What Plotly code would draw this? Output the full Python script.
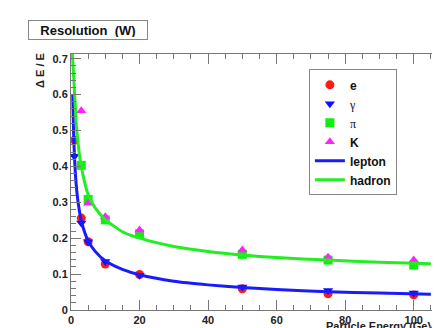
import plotly.graph_objects as go

# ---- data ----
energy = [1, 3, 5, 10, 20, 50, 75, 100]
res_e = [0.473, 0.256, 0.190, 0.128, 0.099, 0.059, 0.045, 0.042]
res_gamma = [0.428, 0.242, 0.190, 0.135, 0.097, 0.064, 0.054, 0.047]
energy_had = [3, 5, 10, 20, 50, 75, 100]
res_pi = [0.403, 0.308, 0.251, 0.212, 0.155, 0.139, 0.125]
res_K = [0.555, 0.297, 0.260, 0.223, 0.167, 0.147, 0.139]

fit_lep_E = [0.5, 0.75, 1, 1.5, 2, 3, 4, 5, 7, 10, 15, 20, 30, 40, 50, 60, 75, 90, 105]
fit_lep_R = [0.600, 0.496, 0.430, 0.351, 0.305, 0.249, 0.216, 0.193, 0.164, 0.137,
             0.113, 0.098, 0.080, 0.070, 0.063, 0.057, 0.051, 0.047, 0.044]
fit_had_E = [0.35, 0.6, 1, 1.3, 1.6, 2, 2.5, 3, 4, 5, 7, 10, 15, 20, 30, 40, 50, 60, 75, 90, 105]
fit_had_R = [0.720, 0.680, 0.610, 0.560, 0.510, 0.470, 0.430, 0.400, 0.355, 0.322, 0.285,
             0.252, 0.218, 0.200, 0.177, 0.163, 0.153, 0.146, 0.139, 0.133, 0.129]

x_ticks = [0, 20, 40, 60, 80, 100]
y_ticks = [0, 0.1, 0.2, 0.3, 0.4, 0.5, 0.6, 0.7]

FONT = "Liberation Sans, Arial, sans-serif"
SERIF = "Liberation Serif"

fig = go.Figure()
fig.add_trace(go.Scatter(x=energy, y=res_e, mode="markers", name="<b>e</b>",
                         marker=dict(symbol="circle", size=9, color="#ff1a1a", line=dict(width=0))))
fig.add_trace(go.Scatter(x=energy, y=res_gamma, mode="markers",
                         name=f"<span style='font-family:{SERIF}'>γ</span>",
                         marker=dict(symbol="triangle-down", size=9, color="#1010ff", line=dict(width=0))))
fig.add_trace(go.Scatter(x=energy_had, y=res_pi, mode="markers",
                         name=f"<span style='font-family:{SERIF}'>π</span>",
                         marker=dict(symbol="square", size=9, color="#10ee10", line=dict(width=0))))
fig.add_trace(go.Scatter(x=energy_had, y=res_K, mode="markers", name="<b>K</b>",
                         marker=dict(symbol="triangle-up", size=9, color="#ff22ff", line=dict(width=0))))
fig.add_trace(go.Scatter(x=fit_lep_E, y=fit_lep_R, mode="lines", name="<b>lepton</b>",
                         line=dict(color="#1a1aff", width=3, shape="spline", smoothing=0.6)))
fig.add_trace(go.Scatter(x=fit_had_E, y=fit_had_R, mode="lines", name="<b>hadron</b>",
                         line=dict(color="#22ee22", width=3, shape="spline", smoothing=0.6)))

axis_common = dict(
    showline=True, linecolor="#777", linewidth=1, mirror="allticks",
    ticks="inside", ticklen=10, tickwidth=1, tickcolor="#777",
    showgrid=False, zeroline=False,
    tickfont=dict(family=FONT, size=11, color="#222", weight="bold"),
)

fig.update_xaxes(range=[0, 110], tickvals=x_ticks,
                 minor=dict(dtick=5, ticklen=5, tickcolor="#777", ticks="inside", showgrid=False),
                 **axis_common)
fig.update_yaxes(range=[0, 0.713], tickvals=y_ticks,
                 minor=dict(dtick=0.02, ticklen=5, tickcolor="#777", ticks="inside", showgrid=False),
                 **axis_common)

fig.update_layout(
    width=440, height=328,
    margin=dict(l=63, r=0, t=46, b=26),
    paper_bgcolor="white", plot_bgcolor="white",
    showlegend=True,
    legend=dict(x=0.631, y=0.94, xanchor="left", yanchor="top",
                bordercolor="#888", borderwidth=1, bgcolor="white",
                font=dict(family=FONT, size=12, color="#111"),
                tracegroupgap=0, itemwidth=30),
    annotations=[
        dict(text="<b>Resolution  (W)</b>", xref="paper", yref="paper",
             x=-0.114, y=1.133, xanchor="left", yanchor="top", showarrow=False,
             font=dict(family=FONT, size=13, color="#111"),
             bordercolor="#888", borderwidth=1, borderpad=2, bgcolor="white",
             width=114, height=14),
        dict(text="<b>Δ E / E</b>", xref="paper", yref="paper",
             x=-0.081, y=1.012, xanchor="center", yanchor="top", showarrow=False,
             textangle=-90, font=dict(family=FONT, size=11, color="#222")),
        dict(text="<b>Particle Energy (GeV)</b>", xref="paper", yref="paper",
             x=0.672, y=-0.062, xanchor="left", yanchor="middle", showarrow=False,
             font=dict(family=FONT, size=11, color="#222")),
    ],
)

fig.write_html("out.html")
